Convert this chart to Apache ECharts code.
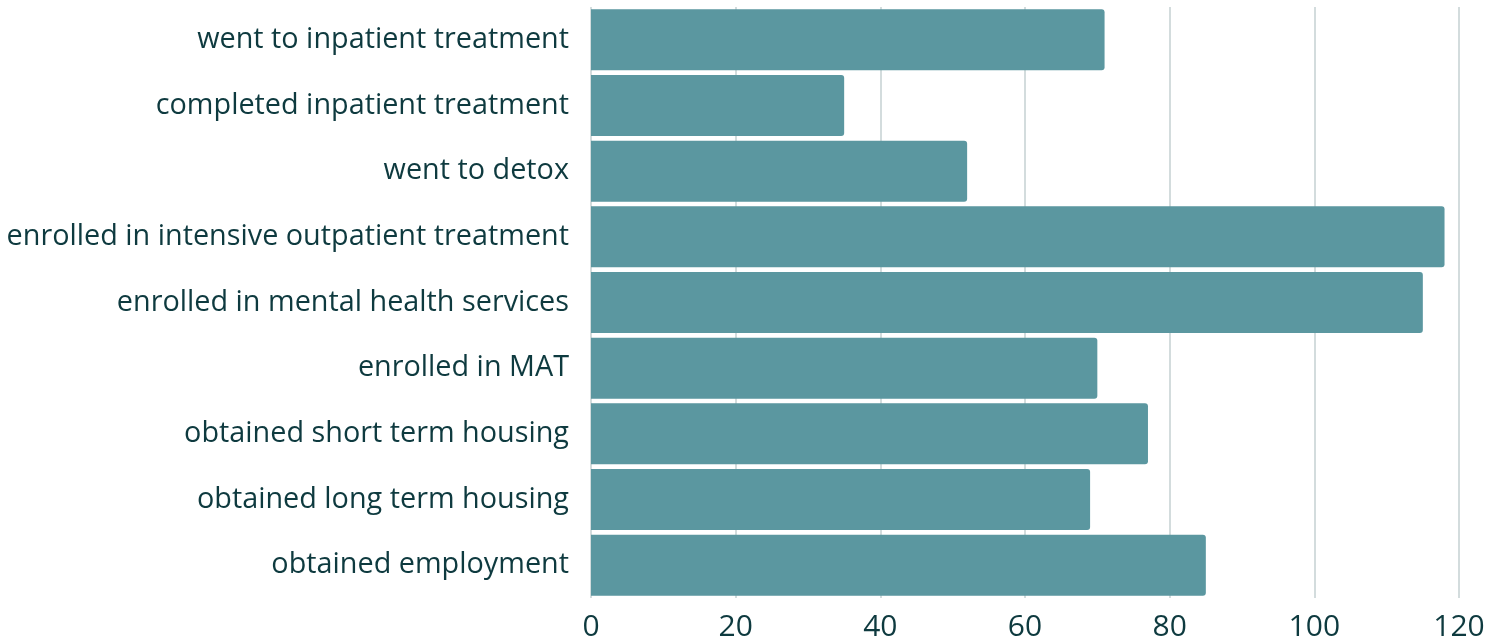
<!DOCTYPE html>
<html><head><meta charset="utf-8">
<script src="https://cdn.jsdelivr.net/npm/echarts@6/dist/echarts.min.js"></script>
<style>html,body{margin:0;padding:0;background:#fff}#c{width:1501px;height:642px}</style>
</head><body><div id="c"></div>
<script>
const categories = [
  "went to inpatient treatment",
  "completed inpatient treatment",
  "went to detox",
  "enrolled in intensive outpatient treatment",
  "enrolled in mental health services",
  "enrolled in MAT",
  "obtained short term housing",
  "obtained long term housing",
  "obtained employment"
];
const values = [71, 35, 52, 118, 115, 70, 77, 69, 85];
const xTicks = [0, 20, 40, 60, 80, 100, 120];

const chart = echarts.init(document.getElementById('c'));
chart.setOption({
  animation: false,
  grid: {left: 591, right: 42, top: 7, bottom: 43, containLabel: false},
  xAxis: {
    type: 'value', min: xTicks[0], max: xTicks[xTicks.length-1], interval: 20,
    axisLine: {show: false}, axisTick: {show: false},
    splitLine: {show: true, lineStyle: {color: '#c5d1d2', width: 1.5}},
    axisLabel: {color: '#0e3a3f', fontSize: 30, fontFamily: 'Open Sans', margin: 14}
  },
  yAxis: {
    type: 'category', data: categories, inverse: true,
    axisLine: {show: false}, axisTick: {show: false},
    axisLabel: {color: '#0e3a3f', fontSize: 28.8, fontFamily: 'Open Sans', margin: 22}
  },
  series: [{
    type: 'bar', data: values, barCategoryGap: '7%',
    itemStyle: {color: '#5b97a0', borderRadius: [0, 3, 3, 0]}
  }]
});
</script></body></html>
